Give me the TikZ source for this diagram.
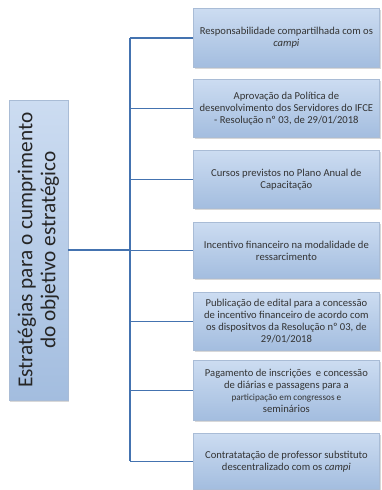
\documentclass[tikz,border=0pt]{standalone}
\usepackage{fontspec}
\setmainfont{Carlito}
\usetikzlibrary{shadows}
\definecolor{boxtop}{HTML}{CCDCF1}
\definecolor{boxbot}{HTML}{A3BDDF}
\definecolor{boxborder}{HTML}{A9BCD6}
\definecolor{connblue}{HTML}{4473B0}
\definecolor{textgray}{HTML}{333333}
\begin{document}
\begin{tikzpicture}[x=1pt,y=1pt,
  box/.style={draw=boxborder, line width=0.8pt, top color=boxtop, bottom color=boxbot,
    minimum width=186pt, inner sep=0pt, align=center,
    font=\fontsize{10.6}{12}\selectfont, text=textgray, anchor=north west,
    drop shadow={shadow xshift=1.2pt, shadow yshift=-1.5pt, fill=black!30}},
  lbox/.style={draw=boxborder, line width=0.8pt, top color=boxtop, bottom color=boxbot,
    minimum width=300pt, minimum height=59pt, inner sep=1pt, align=center, rotate=90,
    font=\fontsize{21.3}{23}\selectfont, text=black!85,
    drop shadow={shadow xshift=1.2pt, shadow yshift=-1.5pt, fill=black!30}},
  conn/.style={draw=connblue, line width=1.3pt}]
\useasboundingbox (0,0) rectangle (381,-490);

\node[lbox] (L) at (38.5,-250) {Estratégias para o cumprimento\\do objetivo estratégico};

\node[box, minimum height=59pt] (b1) at (193,-8) {Responsabilidade compartilhada com os\\\textit{campi}};
\node[box, minimum height=58pt] (b2) at (193,-79) {Aprovação da Política de\\desenvolvimento dos Servidores do IFCE\\- Resolução nº 03, de 29/01/2018};
\node[box, minimum height=58pt] (b3) at (193,-150) {Cursos previstos no Plano Anual de\\Capacitação};
\node[box, minimum height=56pt] (b4) at (193,-222) {Incentivo financeiro na modalidade de\\ressarcimento};
\node[box, minimum height=58pt] (b5) at (193,-292) {Publicação de edital para a concessão\\de incentivo financeiro de acordo com\\os dispositvos da Resolução nº 03, de\\29/01/2018};
\node[box, minimum height=60pt] (b6) at (193,-360) {Pagamento de inscrições\ \ e concessão\\de diárias e passagens para a\\{\fontsize{9.2}{12}\selectfont participação em congressos e}\\seminários};
\node[box, minimum height=56pt] (b7) at (193,-433) {Contratatação de professor substituto\\descentralizado com os \textit{campi}};

\coordinate (T) at (130,0);
\draw[conn] (b1.west -| T) -- (b7.west -| T);
\foreach \b in {b1,b2,b3,b4,b5,b6,b7}{
  \draw[conn] (\b.west -| T) -- (\b.west);
}
\draw[conn] (L.south) -- (L.south -| T);
\end{tikzpicture}
\end{document}
